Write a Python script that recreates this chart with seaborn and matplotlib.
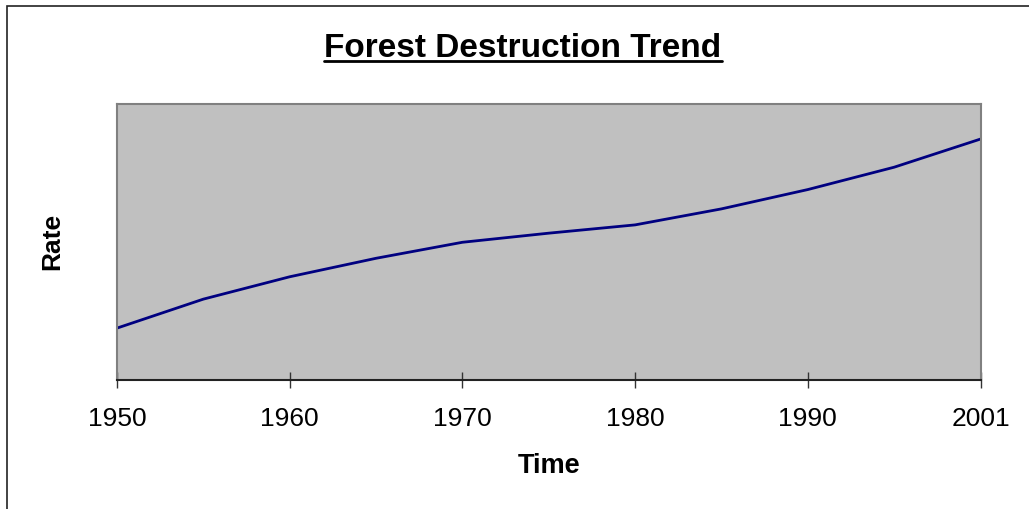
import pandas as pd
import seaborn as sns
import matplotlib.pyplot as plt
from matplotlib.lines import Line2D
from matplotlib.patches import Rectangle

# data (rate axis has no scale, 0-100 used)
years = ["1950", "1955", "1960", "1965", "1970", "1975",
         "1980", "1985", "1990", "1995", "2001"]
rate = [18.8, 29.3, 37.4, 44.1, 49.9, 53.2, 56.2, 62.0, 69.0, 77.1, 87.3]
tick_labels = ["1950", "1960", "1970", "1980", "1990", "2001"]

df = pd.DataFrame({"year": years, "rate": rate})
df["pos"] = range(len(df))

sns.set_style("white")
plt.rcParams["font.family"] = ["Liberation Sans", "DejaVu Sans"]
plt.rcParams["text.color"] = "black"
plt.rcParams["axes.labelcolor"] = "black"

fig = plt.figure(figsize=(10.29, 5.10), dpi=100)
ax = fig.add_axes([117 / 1029, 129 / 510, 863.5 / 1029, 276 / 510])
ax.set_facecolor("#c0c0c0")

sns.lineplot(data=df, x="pos", y="rate", color="#000080", linewidth=2, ax=ax)

ax.set_xlim(0, len(df) - 1)
ax.set_ylim(0, 100)
ax.set_yticks([])
ax.set_xticks(df["pos"][::2], tick_labels, fontsize=19)
ax.tick_params(axis="x", bottom=True, direction="inout", length=11.5,
               width=1, color="#333333", pad=13, labelcolor="black")

for side in ["top", "left", "right"]:
    ax.spines[side].set_color("#808080")
    ax.spines[side].set_linewidth(1.5)
ax.spines["bottom"].set_color("#222222")
ax.spines["bottom"].set_linewidth(1.5)

ax.set_xlabel("Time", fontsize=19.5, fontweight="bold", va="top")
ax.xaxis.set_label_coords(0.5, -0.262)
ax.set_ylabel("Rate", fontsize=19, fontweight="bold", va="center")
ax.yaxis.set_label_coords(-0.0753, 0.504)

# title with underline
title = fig.text(523 / 1029, 1 - 57 / 510, "Forest Destruction Trend",
                 fontsize=24, fontweight="bold", ha="center", va="baseline")
fig.canvas.draw()
bb = title.get_window_extent()
uy = 1 - 62 / 510
fig.add_artist(Line2D([bb.x0 / 1029, bb.x1 / 1029], [uy, uy],
                      transform=fig.transFigure, color="black", linewidth=2))

# chart area frame (right and bottom edges fall outside the image)
fig.add_artist(Rectangle((6.5 / 1029, -0.1), 1.2, 1.1 - 7 / 510,
                         transform=fig.transFigure, fill=False,
                         edgecolor="#222222", linewidth=1.2))

plt.savefig("out.png", dpi=100)
